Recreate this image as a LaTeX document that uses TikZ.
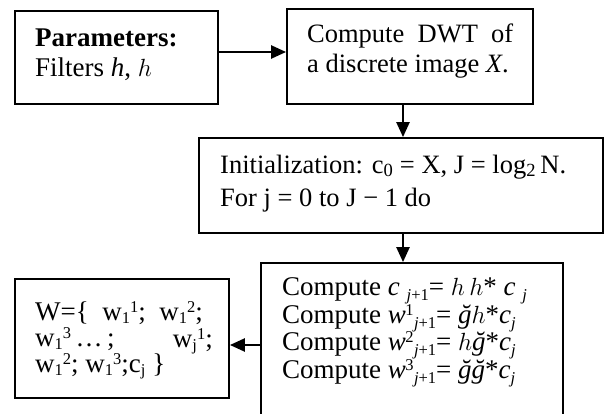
\documentclass[tikz,border=0pt]{standalone}
\usepackage{fontspec}
\setmainfont{Liberation Serif}
\usetikzlibrary{arrows.meta,fit,calc}
\newcommand{\mysup}[1]{\raisebox{7.5pt}{\fontsize{16.5}{16.5}\selectfont #1}}
\newcommand{\mysub}[1]{\raisebox{-5.5pt}{\fontsize{16.5}{16.5}\selectfont #1}}
\newcommand{\ssb}[2]{\kern-0.5pt\mysup{#1}\kern0.3pt\mysub{#2}}
\newcommand{\bsup}[1]{\raisebox{7.5pt}{\fontsize{16.5}{16.5}\selectfont #1}}
\newcommand{\bsub}[1]{\raisebox{-3pt}{\fontsize{16.5}{16.5}\selectfont #1}}
\newcommand{\oh}{$h$}
\begin{document}
\begin{tikzpicture}[x=1pt,y=-1pt,
  box/.style={draw, line width=1.8pt, inner sep=0pt},
  arr/.style={line width=2.4pt, -{Triangle[length=15pt,width=13pt]}},
  txt/.style={anchor=base west, inner sep=0pt, text height=17pt, text depth=5pt,
    font=\fontsize{26.5}{30}\selectfont},
  bigtxt/.style={txt, font=\fontsize{27}{30}\selectfont}]
\useasboundingbox (0,0) rectangle (604,414);
\clip (0,0) rectangle (604,414);
% boxes
\node[box, fit={(15,11) (218,104)}] (b1) {};
\node[box, fit={(287,9) (533,104)}] (b2) {};
\node[box, fit={(199,138) (603,233)}] (b3) {};
\node[box, fit={(261,263) (563,440)}] (b4) {};
\node[box, fit={(15,279) (229,398)}] (b5) {};
% box 1
\node[bigtxt] (t11) at (35,47) {\textbf{Parameters:}};
\node[bigtxt] (t12) at (35,77) {Filters \textit{h}, \oh};
% box 2
\node[txt] (t21) at (307,43) {Compute\ \ DWT\ \ of};
\node[txt] (t22) at (307,73) {a discrete image \textit{X}.};
% box 3
\node[txt] (t31) at (220,173) {Initialization: c\textsubscript{0} = X, J = log\textsubscript{2}\,N.};
\node[txt] (t32) at (220,206) {For j = 0 to J − 1 do};
% box 4
\node[bigtxt] (t41) at (282,295) {Compute \textit{c} \mysub{\textit{j}+1}= \oh\,\oh* \textit{c} \mysub{\textit{j}}};
\node[bigtxt] (t42) at (282,323) {Compute \textit{w}\ssb{1}{\textit{j}+1}= \textit{ğ}\oh*\textit{c}\mysub{\textit{j}}};
\node[bigtxt] (t43) at (282,350) {Compute \textit{w}\ssb{2}{\textit{j}+1}= \oh\textit{ğ}*\textit{c}\mysub{\textit{j}}};
\node[bigtxt] (t44) at (282,378) {Compute \textit{w}\ssb{3}{\textit{j}+1}= \textit{ğğ}*\textit{c}\mysub{\textit{j}}};
% box 5
\node[bigtxt] (t51) at (35,320) {W=\{\ \ w\bsub{1}\bsup{1};\ \ w\bsub{1}\bsup{2};};
\node[bigtxt] (t52) at (35,346) {w\bsub{1}\bsup{3}\,…\,;};
\node[bigtxt, anchor=base east] (t53) at (213,347) {w\bsub{j}\bsup{1};};
\node[bigtxt] (t54) at (35,372) {w\bsub{1}\bsup{2}; w\bsub{1}\bsup{3};c\bsub{j} \}};
% connectors
\coordinate (a1) at ($(b1.east)+(0,-5.5)$);
\draw[arr] (a1) -- (a1 -| b2.west);
\coordinate (a2) at ($(b2.south)+(-7,0)$);
\draw[arr] (a2) -- (a2 |- b3.north);
\coordinate (a3) at ($(b3.south)+(2,0)$);
\draw[arr] (a3) -- (a3 |- b4.north);
\coordinate (a4) at ($(b5.east)+(0,6.5)$);
\draw[arr] (a4 -| b4.west) -- (a4);
\end{tikzpicture}
\end{document}
